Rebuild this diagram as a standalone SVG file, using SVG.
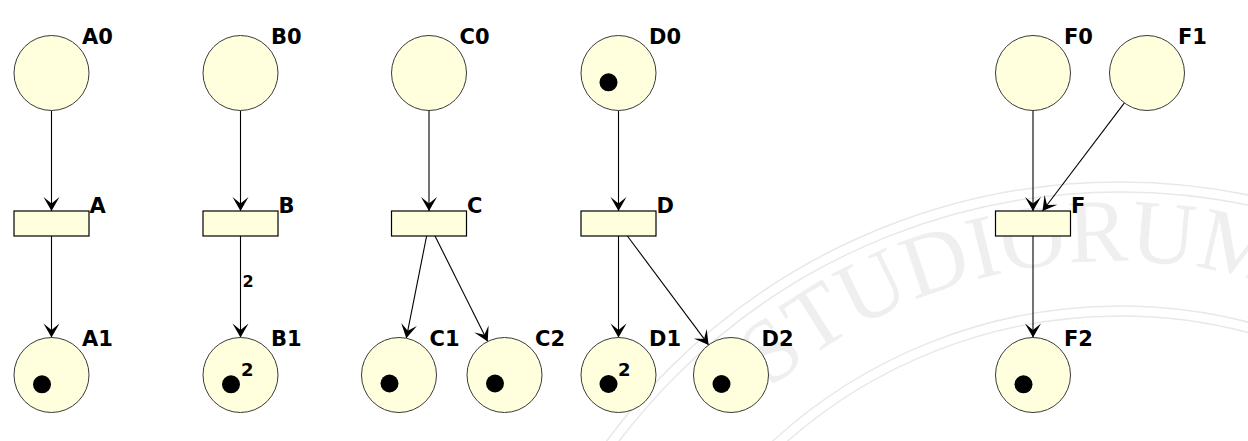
<svg xmlns="http://www.w3.org/2000/svg" width="1248" height="441" viewBox="0 0 1248 441">
<style>
.place{fill:#ffffdd;stroke:#3a3a3a;stroke-width:1}
.trans{fill:#ffffdd;stroke:#000;stroke-width:1.2}
.tok{fill:#000}
.lbl{font-family:"DejaVu Sans",Verdana,sans-serif;font-weight:bold;font-size:21px;fill:#000}
.cnt{font-family:"DejaVu Sans",Verdana,sans-serif;font-weight:bold;font-size:18px;fill:#000}
.w{font-family:"DejaVu Sans",Verdana,sans-serif;font-weight:bold;font-size:16px;fill:#000}
.arc{fill:none;stroke:#000;stroke-width:1.1;marker-end:url(#arr)}
.ring{fill:none;stroke:#e8e8e8;stroke-width:1.5}
.wm{font-family:"Liberation Serif","Times New Roman",serif;font-size:90px;fill:#efefef}
</style>
<defs>
<marker id="arr" viewBox="-15 -9 16 18" refX="0" refY="0" markerWidth="16" markerHeight="18" markerUnits="userSpaceOnUse" orient="auto">
<path d="M0,0 L-14,-8 L-7.5,0 L-14,8 Z" fill="#000"/>
</marker>
<path id="wmpath" d="M609.7 634.3 A528 528 0 0 1 1536 471"/>
</defs>
<rect width="1248" height="441" fill="#fff"/>
<g id="watermark">
<circle class="ring" cx="1120" cy="820" r="638"/>
<circle class="ring" cx="1120" cy="820" r="628"/>
<circle class="ring" cx="1120" cy="820" r="514"/>
<circle class="ring" cx="1120" cy="820" r="504"/>
<text class="wm" text-anchor="middle"><textPath href="#wmpath" startOffset="48.6%">STUDIORUM</textPath></text>
</g>
<g id="connectors">
<line class="arc" x1="51.5" y1="110.5" x2="51.5" y2="211"/>
<line class="arc" x1="51.5" y1="236" x2="51.5" y2="337.5"/>
<line class="arc" x1="240.5" y1="110.5" x2="240.5" y2="211"/>
<line class="arc" x1="240.5" y1="236" x2="240.5" y2="337.5"/>
<text class="w" x="242.5" y="287">2</text>
<line class="arc" x1="429" y1="110.5" x2="429" y2="211"/>
<line class="arc" x1="426.6" y1="236" x2="406.3" y2="338.2"/>
<line class="arc" x1="435" y1="236" x2="487.7" y2="341.5"/>
<line class="arc" x1="618.5" y1="110.5" x2="618.5" y2="211"/>
<line class="arc" x1="618.5" y1="236" x2="618.5" y2="337.5"/>
<line class="arc" x1="627.4" y1="236" x2="708.6" y2="344.9"/>
<line class="arc" x1="1033" y1="110.5" x2="1033" y2="211"/>
<line class="arc" x1="1124.4" y1="102.9" x2="1042.5" y2="211"/>
<line class="arc" x1="1033" y1="236" x2="1033" y2="337.5"/>
</g>
<g id="A0"><circle class="place" cx="51.5" cy="73" r="37.5"/><text class="lbl" x="82" y="43.5">A0</text></g>
<g id="A"><rect class="trans" x="14" y="211" width="75" height="25"/><text class="lbl" x="89.5" y="212.5">A</text></g>
<g id="A1"><circle class="place" cx="51.5" cy="375" r="37.5"/><circle class="tok" cx="42" cy="384.3" r="9"/><text class="lbl" x="82" y="345.5">A1</text></g>
<g id="B0"><circle class="place" cx="240.5" cy="73" r="37.5"/><text class="lbl" x="271" y="43.5">B0</text></g>
<g id="B"><rect class="trans" x="203" y="211" width="75" height="25"/><text class="lbl" x="278.5" y="212.5">B</text></g>
<g id="B1"><circle class="place" cx="240.5" cy="375" r="37.5"/><circle class="tok" cx="231" cy="384.3" r="9"/><text class="cnt" x="241" y="375.5">2</text><text class="lbl" x="271" y="345.5">B1</text></g>
<g id="C0"><circle class="place" cx="429" cy="73" r="37.5"/><text class="lbl" x="459.5" y="43.5">C0</text></g>
<g id="C"><rect class="trans" x="391.5" y="211" width="75" height="25"/><text class="lbl" x="467" y="212.5">C</text></g>
<g id="C1"><circle class="place" cx="399" cy="375" r="37.5"/><circle class="tok" cx="389.5" cy="383.5" r="9"/><text class="lbl" x="429.5" y="345.5">C1</text></g>
<g id="C2"><circle class="place" cx="504.5" cy="375" r="37.5"/><circle class="tok" cx="495" cy="383.5" r="9"/><text class="lbl" x="535" y="345.5">C2</text></g>
<g id="D0"><circle class="place" cx="618.5" cy="73" r="37.5"/><circle class="tok" cx="608.5" cy="82.3" r="9"/><text class="lbl" x="649" y="43.5">D0</text></g>
<g id="D"><rect class="trans" x="581" y="211" width="75" height="25"/><text class="lbl" x="656.5" y="212.5">D</text></g>
<g id="D1"><circle class="place" cx="618.5" cy="375" r="37.5"/><circle class="tok" cx="608.5" cy="384" r="9"/><text class="cnt" x="618" y="375.5">2</text><text class="lbl" x="649" y="345.5">D1</text></g>
<g id="D2"><circle class="place" cx="731" cy="375" r="37.5"/><circle class="tok" cx="721.5" cy="384" r="9"/><text class="lbl" x="761.5" y="345.5">D2</text></g>
<g id="F0"><circle class="place" cx="1033" cy="73" r="37.5"/><text class="lbl" x="1064" y="43.5">F0</text></g>
<g id="F1"><circle class="place" cx="1147" cy="73" r="37.5"/><text class="lbl" x="1178" y="43.5">F1</text></g>
<g id="F"><rect class="trans" x="995.5" y="211" width="75" height="25"/><text class="lbl" x="1071" y="212.5">F</text></g>
<g id="F2"><circle class="place" cx="1033" cy="375" r="37.5"/><circle class="tok" cx="1023.5" cy="384.3" r="9"/><text class="lbl" x="1064" y="345.5">F2</text></g>
</svg>
